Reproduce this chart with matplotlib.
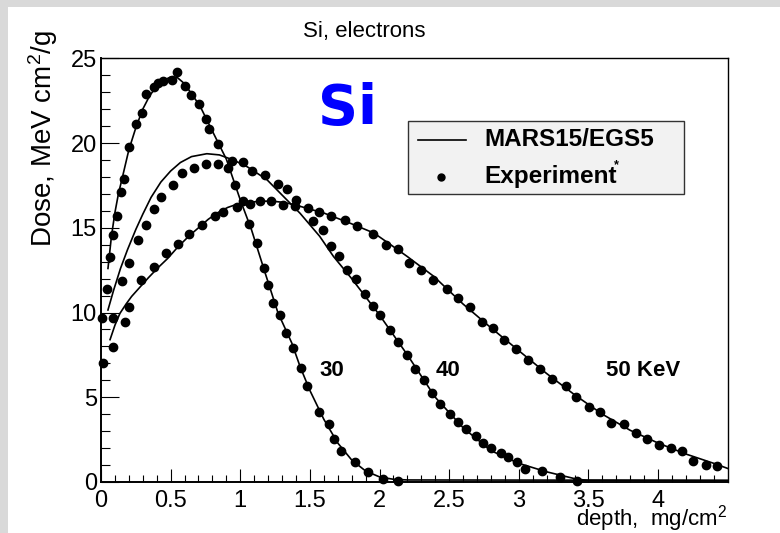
import matplotlib
matplotlib.use("Agg")
import matplotlib.pyplot as plt
from matplotlib.patches import Rectangle
from matplotlib.lines import Line2D
from matplotlib.ticker import MultipleLocator, FixedLocator

plt.rcParams["font.family"] = ["Liberation Sans", "DejaVu Sans"]
plt.rcParams["mathtext.fontset"] = "custom"
plt.rcParams["mathtext.rm"] = "Liberation Sans"
plt.rcParams["mathtext.it"] = "Liberation Sans:italic"
plt.rcParams["mathtext.bf"] = "Liberation Sans:bold"

# measured depth-dose points, MeV cm^2/g vs mg/cm^2
exp30_x = [0.01, 0.045, 0.065, 0.084, 0.113, 0.141, 0.165, 0.203, 0.249, 0.292, 0.321, 0.381,
           0.412, 0.448, 0.512, 0.548, 0.603, 0.644, 0.704, 0.752, 0.778, 0.842, 0.914, 0.962,
           1.065, 1.118, 1.173, 1.197, 1.238, 1.285, 1.329, 1.381, 1.434, 1.482, 1.568, 1.637,
           1.676, 1.724, 1.824, 1.92, 2.023, 2.135]
exp30_y = [9.7, 11.4, 13.3, 14.6, 15.7, 17.1, 17.9, 19.75, 21.1, 21.8, 22.9, 23.3,
           23.55, 23.65, 23.74, 24.22, 23.35, 22.82, 22.32, 21.44, 20.8, 19.96, 18.5, 17.5,
           15.2, 14.1, 12.62, 11.6, 10.55, 9.88, 8.82, 7.9, 6.72, 5.69, 4.12, 3.41,
           2.52, 1.83, 1.16, 0.57, 0.18, 0.08]

exp40_x = [0.084, 0.149, 0.203, 0.263, 0.323, 0.383, 0.431, 0.519, 0.579, 0.67, 0.754, 0.842,
           0.938, 1.022, 1.082, 1.178, 1.269, 1.333, 1.4, 1.52, 1.597, 1.649, 1.706, 1.764,
           1.831, 1.896, 1.951, 2.004, 2.075, 2.135, 2.2, 2.255, 2.32, 2.377, 2.434, 2.504,
           2.562, 2.621, 2.692, 2.744, 2.803, 2.87, 2.925, 2.985, 3.047, 3.169, 3.296, 3.42]
exp40_y = [9.7, 11.87, 12.92, 14.3, 15.18, 16.1, 16.8, 17.5, 18.21, 18.53, 18.76, 18.76,
           18.92, 18.88, 18.36, 18.09, 17.6, 17.29, 16.66, 15.38, 14.86, 13.94, 13.31, 12.5,
           11.97, 11.1, 10.4, 9.86, 8.98, 8.26, 7.52, 6.66, 6.0, 5.26, 4.61, 4.02,
           3.53, 3.12, 2.73, 2.3, 1.99, 1.73, 1.49, 1.2, 0.77, 0.67, 0.28, 0.08]

exp50_x = [0.017, 0.084, 0.172, 0.201, 0.287, 0.383, 0.467, 0.551, 0.634, 0.723, 0.819, 0.878,
           0.974, 1.022, 1.07, 1.142, 1.221, 1.305, 1.393, 1.489, 1.568, 1.649, 1.754, 1.836,
           1.956, 2.044, 2.135, 2.214, 2.296, 2.382, 2.483, 2.562, 2.65, 2.734, 2.813, 2.894,
           2.978, 3.064, 3.153, 3.241, 3.337, 3.411, 3.507, 3.583, 3.66, 3.756, 3.84, 3.923,
           4.009, 4.093, 4.175, 4.249, 4.345, 4.426]
exp50_y = [7.0, 7.96, 9.45, 10.32, 11.89, 12.68, 13.51, 14.04, 14.63, 15.14, 15.67, 15.91,
           16.23, 16.56, 16.42, 16.56, 16.6, 16.36, 16.26, 16.17, 15.91, 15.71, 15.48, 15.12,
           14.65, 14.0, 13.74, 12.95, 12.48, 11.89, 11.38, 10.85, 10.3, 9.47, 9.08, 8.39,
           7.84, 7.17, 6.66, 6.07, 5.69, 5.0, 4.45, 4.12, 3.47, 3.41, 2.88, 2.54,
           2.19, 1.99, 1.85, 1.26, 1.0, 0.95]

# MARS15/EGS5 calculation
mc30_x = [0.05, 0.075, 0.1, 0.125, 0.15, 0.2, 0.25, 0.3, 0.35, 0.4, 0.45, 0.5, 0.55, 0.6,
          0.65, 0.71, 0.8, 0.9, 1.0, 1.08, 1.18, 1.27, 1.37, 1.43, 1.5, 1.6, 1.7, 1.8, 1.9,
          2.0, 2.1, 2.2, 4.5]
mc30_y = [12.6, 14.5, 15.9, 17.0, 17.85, 19.6, 20.9, 22.0, 22.8, 23.35, 23.7, 23.9, 23.85, 23.5,
          22.9, 22.2, 20.7, 19.05, 16.65, 14.9, 12.3, 10.0, 8.2, 6.8, 5.4, 3.7, 2.3, 1.3, 0.65,
          0.3, 0.16, 0.12, 0.1]

mc40_x = [0.05, 0.09, 0.14, 0.19, 0.25, 0.3, 0.36, 0.43, 0.5, 0.57, 0.65, 0.76, 0.85, 0.95,
          1.05, 1.19, 1.31, 1.43, 1.57, 1.67, 1.8, 2.0, 2.2, 2.4, 2.6, 2.8, 3.0, 3.2, 3.42,
          3.5, 4.5]
mc40_y = [10.15, 11.3, 12.6, 13.7, 14.9, 15.8, 16.8, 17.7, 18.35, 18.85, 19.2, 19.37, 19.3, 19.0,
          18.6, 17.85, 16.85, 15.85, 14.5, 13.3, 12.0, 9.85, 7.5, 5.0, 3.2, 1.85, 1.1, 0.6, 0.16,
          0.1, 0.08]

mc50_x = [0.065, 0.1, 0.136, 0.18, 0.22, 0.28, 0.34, 0.41, 0.48, 0.55, 0.63, 0.7, 0.77, 0.84,
          0.91, 0.98, 1.06, 1.15, 1.23, 1.31, 1.39, 1.5, 1.6, 1.78, 1.96, 2.08, 2.2, 2.39, 2.6,
          2.8, 3.0, 3.2, 3.4, 3.6, 3.8, 4.0, 4.2, 4.4, 4.5]
mc50_y = [8.4, 9.25, 9.95, 10.5, 10.95, 11.5, 12.05, 12.65, 13.2, 13.85, 14.5, 15.0, 15.5, 15.9,
          16.2, 16.4, 16.5, 16.57, 16.57, 16.5, 16.36, 16.1, 15.87, 15.3, 14.69, 14.0, 13.3, 12.13,
          10.5, 9.1, 7.75, 6.4, 5.15, 4.0, 3.05, 2.3, 1.65, 1.1, 0.8]

energy_labels = ["30", "40", "50 KeV"]
label_x = [1.66, 2.49, 3.89]
label_y = [6.55, 6.55, 6.55]

fig = plt.figure(figsize=(7.8, 5.33), dpi=100, facecolor="#d9d9d9")
fig.patches.append(Rectangle((8 / 780, 0), 1, 1 - 7 / 533, transform=fig.transFigure,
                             facecolor="white", edgecolor="none", zorder=-5))

ax = fig.add_axes([101 / 780, 1 - 482 / 533, 626.7 / 780, 423.7 / 533])
ax.set_facecolor("white")

line_kw = dict(color="black", lw=1.2, zorder=2)
mark_kw = dict(color="black", marker="o", ms=6, ls="none", zorder=3)
for mx, my in [(mc30_x, mc30_y), (mc40_x, mc40_y), (mc50_x, mc50_y)]:
    ax.plot(mx, my, **line_kw)
for ex, ey in [(exp30_x, exp30_y), (exp40_x, exp40_y), (exp50_x, exp50_y)]:
    ax.plot(ex, ey, clip_on=False, **mark_kw)

ax.set_xlim(0, 4.5)
ax.set_ylim(0, 25)
ax.xaxis.set_major_locator(FixedLocator([0, 0.5, 1, 1.5, 2, 2.5, 3, 3.5, 4]))
ax.xaxis.set_minor_locator(FixedLocator([i / 10 for i in range(45)]))
ax.yaxis.set_major_locator(MultipleLocator(5))
ax.yaxis.set_minor_locator(MultipleLocator(1))
ax.set_xticklabels(["0", "0.5", "1", "1.5", "2", "2.5", "3", "3.5", "4"])
ax.tick_params(axis="both", which="both", direction="in", width=0.8, labelsize=17)
ax.tick_params(axis="x", which="major", length=9.5, pad=6)
ax.tick_params(axis="x", which="minor", length=5)
ax.tick_params(axis="y", which="major", length=13, pad=3)
ax.tick_params(axis="y", which="minor", length=6.5)
for s in ax.spines.values():
    s.set_linewidth(1.0)
ax.spines["left"].set_linewidth(1.4)
ax.spines["bottom"].set_linewidth(1.4)

for txt, tx, ty in zip(energy_labels, label_x, label_y):
    ax.text(tx, ty, txt, ha="center", va="center", fontsize=16, fontweight="bold")

ax.text(1.77, 22.0, "Si", color="#0000ff", fontsize=40, fontweight="bold",
        family="DejaVu Sans", ha="center", va="center")

# legend box
ax.add_patch(Rectangle((0.49, 0.68), 0.44, 0.171, transform=ax.transAxes,
                       facecolor="#f2f2f2", edgecolor="#333333", lw=1.0, zorder=4))
ax.add_line(Line2D([0.506, 0.583], [0.808, 0.808], transform=ax.transAxes,
                   color="black", lw=1.2, zorder=5))
ax.add_line(Line2D([0.542], [0.72], transform=ax.transAxes, color="black",
                   marker="o", ms=5, zorder=5))
ax.text(0.611, 0.808, "MARS15/EGS5", transform=ax.transAxes, fontsize=17.5,
        fontweight="bold", va="center", ha="left", zorder=5)
ax.text(0.611, 0.72, "Experiment", transform=ax.transAxes, fontsize=17.5,
        fontweight="bold", va="center", ha="left", zorder=5)
ax.text(0.823, 0.748, "*", transform=ax.transAxes, fontsize=9,
        fontweight="bold", va="center", ha="center", zorder=5)

fig.text(364 / 780, 1 - 32 / 533, "Si, electrons", fontsize=16, ha="center", va="center")
fig.text(43 / 780, 1 - 30 / 533, r"Dose, MeV cm$^2$/g", fontsize=20, rotation=90,
         ha="center", va="top")
fig.text(727 / 780, 1 - 526 / 533, r"depth,  mg/cm$^2$", fontsize=16,
         ha="right", va="baseline")

fig.savefig("out.png", dpi=100, facecolor=fig.get_facecolor())
